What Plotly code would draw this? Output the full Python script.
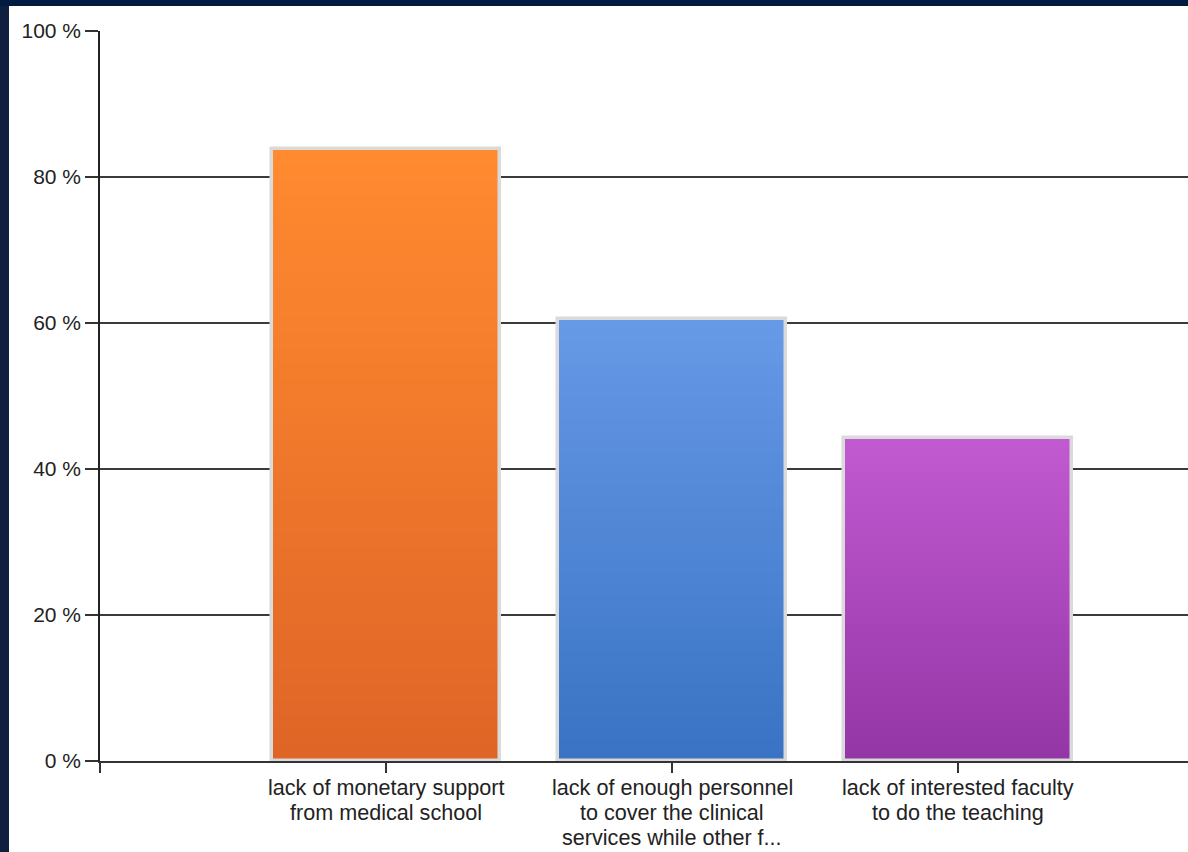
import plotly.graph_objects as go

# ---- data ----
categories = [
    "lack of monetary support<br>from medical school",
    "lack of enough personnel<br>to cover the clinical<br>services while other f...",
    "lack of interested faculty<br>to do the teaching",
]
values = [83.8, 60.5, 44.2]
top_colors = ["#FF8A2F", "#6699E6", "#C159D1"]
bottom_colors = ["#DF6527", "#3A73C4", "#9436A5"]
y_ticks = [0, 20, 40, 60, 80, 100]
y_tick_labels = ["%d %%" % v for v in y_ticks]

x_idx = list(range(len(categories)))


def hex_to_rgb(h):
    h = h.lstrip("#")
    return tuple(int(h[i:i + 2], 16) for i in (0, 2, 4))


def mix(c1, c2, t):
    a, b = hex_to_rgb(c1), hex_to_rgb(c2)
    return "rgb(%d,%d,%d)" % tuple(round(a[i] + (b[i] - a[i]) * t) for i in range(3))


fig = go.Figure()

BAR_W = 0.80
N = 40
# vertical gradient: tallest layer uses top colour, shorter layers drawn over it
for k in range(N):
    frac = (N - k) / N
    t = k / (N - 1)
    fig.add_trace(go.Bar(
        x=x_idx,
        y=[v * frac for v in values],
        width=BAR_W,
        marker=dict(color=[mix(tc, bc, t) for tc, bc in zip(top_colors, bottom_colors)],
                    line=dict(width=0)),
        hoverinfo="skip",
        showlegend=False,
    ))

# outline
fig.add_trace(go.Bar(
    x=x_idx,
    y=values,
    width=BAR_W,
    marker=dict(color="rgba(0,0,0,0)", line=dict(color="#DADADA", width=3.5)),
    hovertemplate="%{y} %<extra></extra>",
    showlegend=False,
))

W, H = 1188, 852
L, R, T, B = 100, 0, 31, 91
pw, ph = W - L - R, H - T - B
unit = 286.0
x0 = -1.0
x1 = x0 + pw / unit


def px(x):
    return (x - L) / pw


def py(y):
    return (H - B - y) / ph


shapes = [
    # navy frame (left and top strips)
    dict(type="rect", xref="paper", yref="paper", x0=px(0), x1=px(9), y0=py(H), y1=py(0),
         fillcolor="#0E1F40", line=dict(width=0), layer="above"),
    dict(type="rect", xref="paper", yref="paper", x0=px(0), x1=px(W), y0=py(6), y1=py(0),
         fillcolor="#001A40", line=dict(width=0), layer="above"),
]

FONT = "Liberation Sans, Arial, sans-serif"
LABEL_SIZE = 21.6
TICK_SIZE = 21

# category labels, one annotation per line for tighter line spacing
annotations = []
for i, cat in zip(x_idx, categories):
    for j, line in enumerate(cat.split("<br>")):
        annotations.append(dict(
            x=i, y=0, xref="x", yref="y",
            text=line, showarrow=False,
            xanchor="center", yanchor="middle",
            yshift=-(26 + 25 * j),
            font=dict(family=FONT, size=LABEL_SIZE, color="#222222"),
        ))

fig.update_layout(
    width=W, height=H,
    margin=dict(l=L, r=R, t=T, b=B, pad=0),
    paper_bgcolor="white",
    plot_bgcolor="white",
    barmode="overlay",
    bargap=0,
    showlegend=False,
    font=dict(family=FONT, size=TICK_SIZE, color="#222222"),
    shapes=shapes,
    annotations=annotations,
    xaxis=dict(
        range=[x0, x1],
        tickmode="array",
        tickvals=[-1] + x_idx,
        ticktext=[""] * (len(x_idx) + 1),
        ticks="outside", ticklen=10, tickwidth=1.5, tickcolor="#333333",
        showgrid=False, zeroline=False,
        showline=True, linecolor="#333333", linewidth=1.5,
        fixedrange=True,
    ),
    yaxis=dict(
        range=[0, 100],
        tickmode="array",
        tickvals=y_ticks,
        ticktext=y_tick_labels,
        ticks="outside", ticklen=13, tickwidth=1.5, tickcolor="#333333",
        showgrid=True, gridcolor="#3A3A3A", gridwidth=1.5,
        zeroline=False,
        showline=True, linecolor="#222222", linewidth=1.5,
        tickfont=dict(family=FONT, size=TICK_SIZE, color="#222222"),
        fixedrange=True,
    ),
)

fig.write_html(
    "out.html",
    config={"displayModeBar": False},
    post_script="document.body.style.margin='0';document.body.style.overflow='hidden';",
)
